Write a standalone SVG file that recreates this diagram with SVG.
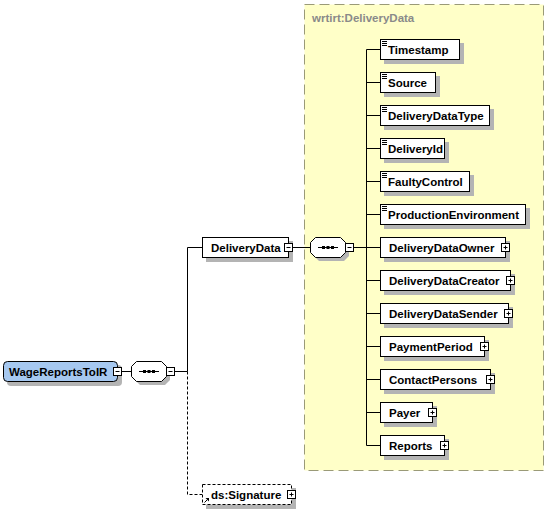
<svg xmlns="http://www.w3.org/2000/svg" xmlns:xlink="http://www.w3.org/1999/xlink" width="548" height="513" viewBox="0 0 548 513">
<style>
.bx{fill:#fff;stroke:#000;stroke-width:1}
.sh{fill:#b4b4b4}
.t{font-family:"Liberation Sans",Arial,sans-serif;font-weight:bold;font-size:11.5px;fill:#000}
.ln{stroke:#000;stroke-width:1;fill:none}
.dl{stroke:#000;stroke-width:1;fill:none;stroke-dasharray:3,2}
.ic{stroke:#000;stroke-width:1}
</style>
<defs>
<g id="plus"><rect x="0.5" y="0.5" width="8" height="8" class="bx"/><path d="M2.5 4.5H6.5M4.5 2.5V6.5" class="ln"/></g>
<g id="minus"><rect x="0.5" y="0.5" width="8" height="8" class="bx"/><path d="M2.5 4.5H6.5" class="ln"/></g>
<g id="seq">
<path d="M9 4H34L39 9V19L34 24H9L4 19V9Z" class="sh"/>
<path d="M5.5 0.5H30.5L35.5 5.5V15.5L30.5 20.5H5.5L0.5 15.5V5.5Z" class="bx"/>
<path d="M8 10.5H28" class="ln"/>
<rect x="12" y="9" width="3" height="3"/><rect x="16.5" y="9" width="3" height="3"/><rect x="21" y="9" width="3" height="3"/>
</g>
<g id="note"><path d="M382 2.5H387M382 4.5H387M382 6.5H387" class="ic"/></g>
</defs>

<rect x="304.5" y="4.5" width="239" height="466" fill="#ffffc8" stroke="#9a9a78" stroke-dasharray="10,5"/>
<text x="312" y="22" class="t" style="fill:#8a8a8a">wrtirt:DeliveryData</text>

<g id="connectors">
<path d="M122 371.5H132M175 371.5H187.5M187.5 247.5V371.5M187.5 247.5H202" class="ln"/>
<path d="M187.5 371.5V494.5H202" class="dl"/>
<path d="M293 247.5H311M354 247.5H366.5M366.5 49.5V445.5" class="ln"/>
<path d="M366.5 49.5H380M366.5 82.5H380M366.5 115.5H380M366.5 148.5H380M366.5 181.5H380M366.5 214.5H380M366.5 247.5H380M366.5 280.5H380M366.5 313.5H380M366.5 346.5H380M366.5 379.5H380M366.5 412.5H380M366.5 445.5H380" class="ln"/>
</g>

<g id="WageReportsToIR">
<rect x="7" y="365" width="115" height="21" rx="4" class="sh"/>
<rect x="3.5" y="361.5" width="114" height="20" rx="4" fill="#a6c8f0" stroke="#000"/>
<text x="9" y="375.5" class="t">WageReportsToIR</text>
<use xlink:href="#minus" x="113" y="367"/>
</g>

<g id="seq1"><use xlink:href="#seq" x="131" y="361"/><use xlink:href="#minus" x="166" y="367"/></g>

<g id="DeliveryData">
<rect x="206" y="241" width="87" height="21" class="sh"/>
<rect x="202.5" y="237.5" width="86" height="20" class="bx"/>
<text x="211" y="251.5" class="t">DeliveryData</text>
<use xlink:href="#minus" x="284" y="243"/>
</g>

<g id="seq2"><use xlink:href="#seq" x="310" y="237"/><use xlink:href="#minus" x="345" y="243"/></g>

<g id="ds-Signature">
<rect x="206" y="488" width="90" height="21" class="sh"/>
<rect x="202.5" y="484.5" width="89" height="20" fill="#fff" stroke="#000" stroke-dasharray="3,2"/>
<path d="M204.5 502.5L207.5 499.5" class="ln"/><path d="M205.5 498H209V501.5Z" fill="#000"/>
<text x="211" y="498.5" class="t">ds:Signature</text>
<use xlink:href="#plus" x="287" y="490"/>
</g>

<g id="Timestamp" transform="translate(0,39)">
<rect x="384" y="4" width="80" height="21" class="sh"/><rect x="380.5" y="0.5" width="79" height="20" class="bx"/>
<use xlink:href="#note"/><text x="388" y="14.5" class="t">Timestamp</text></g>
<g id="Source" transform="translate(0,72)">
<rect x="384" y="4" width="56" height="21" class="sh"/><rect x="380.5" y="0.5" width="55" height="20" class="bx"/>
<use xlink:href="#note"/><text x="388" y="14.5" class="t">Source</text></g>
<g id="DeliveryDataType" transform="translate(0,105)">
<rect x="384" y="4" width="110" height="21" class="sh"/><rect x="380.5" y="0.5" width="109" height="20" class="bx"/>
<use xlink:href="#note"/><text x="388" y="14.5" class="t">DeliveryDataType</text></g>
<g id="DeliveryId" transform="translate(0,138)">
<rect x="384" y="4" width="65" height="21" class="sh"/><rect x="380.5" y="0.5" width="64" height="20" class="bx"/>
<use xlink:href="#note"/><text x="388" y="14.5" class="t">DeliveryId</text></g>
<g id="FaultyControl" transform="translate(0,171)">
<rect x="384" y="4" width="90" height="21" class="sh"/><rect x="380.5" y="0.5" width="89" height="20" class="bx"/>
<use xlink:href="#note"/><text x="388" y="14.5" class="t">FaultyControl</text></g>
<g id="ProductionEnvironment" transform="translate(0,204)">
<rect x="384" y="4" width="146" height="21" class="sh"/><rect x="380.5" y="0.5" width="145" height="20" class="bx"/>
<use xlink:href="#note"/><text x="388" y="14.5" class="t">ProductionEnvironment</text></g>

<g id="DeliveryDataOwner" transform="translate(0,237)">
<rect x="384" y="4" width="126" height="21" class="sh"/><rect x="380.5" y="0.5" width="125" height="20" class="bx"/>
<text x="389" y="14.5" class="t">DeliveryDataOwner</text><use xlink:href="#plus" x="501" y="6"/></g>
<g id="DeliveryDataCreator" transform="translate(0,270)">
<rect x="384" y="4" width="131" height="21" class="sh"/><rect x="380.5" y="0.5" width="130" height="20" class="bx"/>
<text x="389" y="14.5" class="t">DeliveryDataCreator</text><use xlink:href="#plus" x="506" y="6"/></g>
<g id="DeliveryDataSender" transform="translate(0,303)">
<rect x="384" y="4" width="129" height="21" class="sh"/><rect x="380.5" y="0.5" width="128" height="20" class="bx"/>
<text x="389" y="14.5" class="t">DeliveryDataSender</text><use xlink:href="#plus" x="504" y="6"/></g>
<g id="PaymentPeriod" transform="translate(0,336)">
<rect x="384" y="4" width="105" height="21" class="sh"/><rect x="380.5" y="0.5" width="104" height="20" class="bx"/>
<text x="389" y="14.5" class="t">PaymentPeriod</text><use xlink:href="#plus" x="480" y="6"/></g>
<g id="ContactPersons" transform="translate(0,369)">
<rect x="384" y="4" width="111" height="21" class="sh"/><rect x="380.5" y="0.5" width="110" height="20" class="bx"/>
<text x="389" y="14.5" class="t">ContactPersons</text><use xlink:href="#plus" x="486" y="6"/></g>
<g id="Payer" transform="translate(0,402)">
<rect x="384" y="4" width="53" height="21" class="sh"/><rect x="380.5" y="0.5" width="52" height="20" class="bx"/>
<text x="389" y="14.5" class="t">Payer</text><use xlink:href="#plus" x="428" y="6"/></g>
<g id="Reports" transform="translate(0,435)">
<rect x="384" y="4" width="65" height="21" class="sh"/><rect x="380.5" y="0.5" width="64" height="20" class="bx"/>
<text x="389" y="14.5" class="t">Reports</text><use xlink:href="#plus" x="440" y="6"/></g>
</svg>
